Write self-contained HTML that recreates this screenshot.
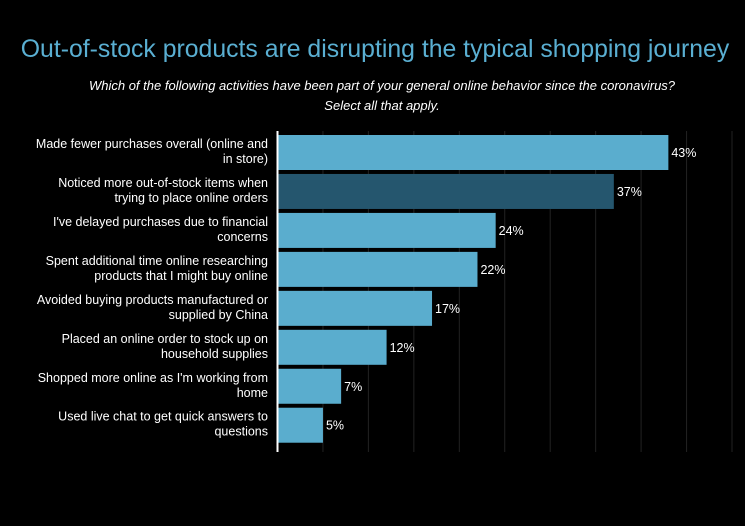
<!DOCTYPE html>
<html><head><meta charset="utf-8"><style>
html,body{margin:0;padding:0;background:#000;width:745px;height:526px;overflow:hidden}
svg text{font-family:"Liberation Sans",sans-serif}
</style></head><body>
<svg width="745" height="526">
<text x="375" y="57" text-anchor="middle" fill="#5aafd2" font-size="24.8">Out-of-stock products are disrupting the typical shopping journey</text>
<text x="382" y="90" text-anchor="middle" fill="#fff" font-size="13" font-style="italic">Which of the following activities have been part of your general online behavior since the coronavirus?</text>
<text x="382" y="110" text-anchor="middle" fill="#fff" font-size="13" font-style="italic">Select all that apply.</text>
<g id="grid"></g><g id="bars"></g>
<line x1="277.5" y1="131" x2="277.5" y2="452" stroke="#fff" stroke-width="2"/>
</svg>
<script>
const categories=[["Made fewer purchases overall (online and","in store)"],["Noticed more out-of-stock items when","trying to place online orders"],["I've delayed purchases due to financial","concerns"],["Spent additional time online researching","products that I might buy online"],["Avoided buying products manufactured or","supplied by China"],["Placed an online order to stock up on","household supplies"],["Shopped more online as I'm working from","home"],["Used live chat to get quick answers to","questions"]];
const values=[43,37,24,22,17,12,7,5];
const highlight=[false,true,false,false,false,false,false,false];
const ticks=[5,10,15,20,25,30,35,40,45,50];
const NS="http://www.w3.org/2000/svg";
const x0=277.5,pxPer=9.09;
const xs=v=>x0+v*pxPer;
const ys=i=>135+i*38.96;
const g=document.getElementById("grid"),b=document.getElementById("bars");
function mk(t,a,p){const e=document.createElementNS(NS,t);for(const k in a)e.setAttribute(k,a[k]);p.appendChild(e);return e;}
ticks.forEach(t=>{const l=mk("line",{x1:xs(t),x2:xs(t),y1:131,y2:452,stroke:"#222","stroke-width":1},g);

});
values.forEach((v,i)=>{const y=ys(i);
const r=mk("rect",{x:x0,y:y,width:xs(v)-x0,height:35,fill:highlight[i]?"#25566e":"#5aadce"},b);


const t=mk("text",{x:xs(v)+3,y:y+22,fill:"#fff","font-size":12.5},b);t.textContent=v+"%";


categories[i].forEach((s,j)=>{const c=mk("text",{x:268,y:y+13+j*15,fill:"#fff","font-size":12.5,"text-anchor":"end"},b);c.textContent=s;

});
});
</script>
</body></html>
